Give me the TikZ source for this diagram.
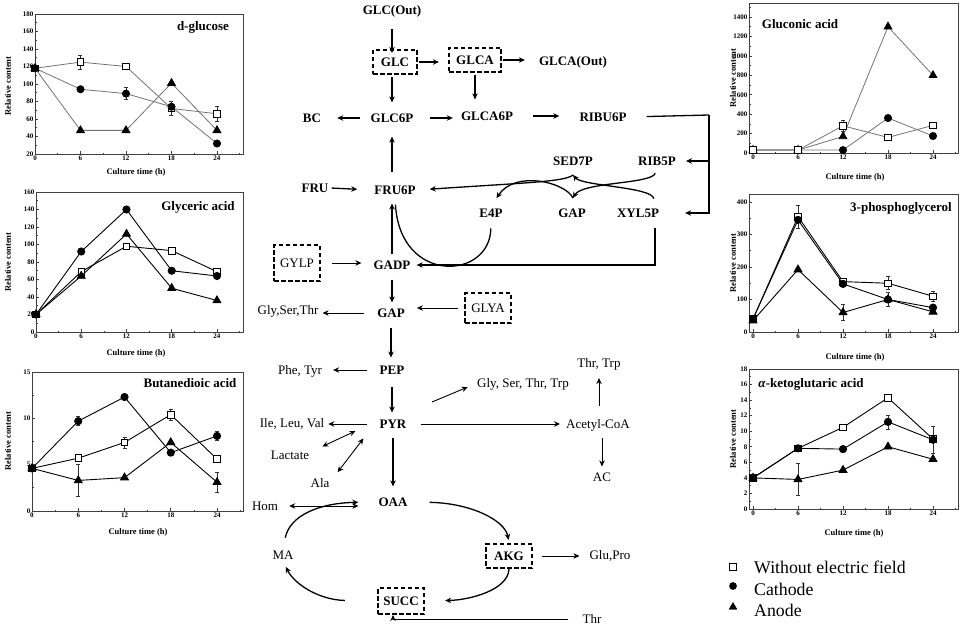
\documentclass[tikz,border=0pt]{standalone}
\usepackage{fontspec}
\setmainfont{Liberation Serif}
\usetikzlibrary{arrows.meta,plotmarks,calc}

\newcommand\errbar[3]{%
  \draw[ebar] (#1,#2-#3) -- (#1,#2+#3)
    ([xshift=-2pt]#1,#2+#3) -- ([xshift=2pt]#1,#2+#3)
    ([xshift=-2pt]#1,#2-#3) -- ([xshift=2pt]#1,#2-#3);}

\newcommand\chartframe[6]{%
  \draw[frm] (#1,#3) rectangle (#2,#4);
  \foreach \hr in {0,6,...,24}{
    \draw[frm] (\hr,#3) -- ++(0pt,3pt);
    \node[tick,anchor=north] at (\hr,#3) {\hr};}
  \foreach \hr in {3,9,...,27} \draw[frm] (\hr,#3) -- ++(0pt,1.5pt);
  \foreach \yv in {#5}{
    \draw[frm] (#1,\yv) -- ++(3pt,0pt);
    \node[tick,anchor=east] at (#1,\yv) {\yv};}
  \foreach \yv in {#6} \draw[frm] (#1,\yv) -- ++(1.5pt,0pt);
}

\begin{document}
\begin{tikzpicture}[x=1pt,y=-1pt,
  met/.style={font=\fontsize{13}{15}\selectfont\bfseries,inner sep=2pt},
  sidep/.style={font=\fontsize{13}{15}\selectfont,inner sep=2pt},
  enz/.style={draw,line width=2.2pt,dash pattern=on 4.5pt off 2.5pt,inner sep=0pt},
  arr/.style={-{Stealth[length=6pt,width=5.5pt]},line width=1.3pt,shorten >=10pt,shorten <=10pt},
  sarr/.style={arr,line width=0.9pt},
  darr/.style={sarr,{Stealth[length=6pt,width=5.5pt]}-{Stealth[length=6pt,width=5.5pt]}},
  curv/.style={line width=1.3pt},
  frm/.style={draw=black!75,line width=0.7pt},
  tick/.style={font=\fontsize{7}{8}\selectfont\bfseries,inner sep=1.5pt},
  ctitle/.style={font=\fontsize{13}{15}\selectfont\bfseries},
  xlab/.style={font=\fontsize{8.5}{10}\selectfont\bfseries},
  ylab/.style={font=\fontsize{8.5}{10}\selectfont\bfseries,rotate=90},
  ser/.style={line width=0.9pt},
  gser/.style={line width=0.8pt,draw=black!55},
  ebar/.style={line width=0.6pt,draw=black!80},
  msq/.style={mark=square*,mark size=3.3pt,mark options={solid,draw=black,fill=white,line width=0.8pt}},
  mci/.style={mark=*,mark size=3.6pt,mark options={draw=black,fill=black}},
  mtr/.style={mark=triangle*,mark size=4.5pt,mark options={draw=black,fill=black}},
  leg/.style={font=\fontsize{17.8}{20}\selectfont,anchor=west,inner sep=2pt}]

  \useasboundingbox (0,0) rectangle (964,626);

  % pathway nodes
  \node[met] (glcout) at (392,11) {GLC(Out)};
  \node[met,enz,minimum width=44pt,minimum height=24pt] (glc) at (395,62) {GLC};
  \node[met,enz,minimum width=52pt,minimum height=24pt] (glca) at (475,60) {GLCA};
  \node[met] (glcaout) at (573,62) {GLCA(Out)};
  \node[met] (bc) at (312,118) {BC};
  \node[met] (glc6p) at (392,118) {GLC6P};
  \node[met] (glca6p) at (487,116) {GLCA6P};
  \node[met] (ribu6p) at (603,117) {RIBU6P};
  \node[met] (sed7p) at (573,161) {SED7P};
  \node[met] (rib5p) at (657,161) {RIB5P};
  \node[met] (fru) at (315,188) {FRU};
  \node[met] (fru6p) at (395,190) {FRU6P};
  \node[met] (e4p) at (491,213) {E4P};
  \node[met] (gapt) at (572,213) {GAP};
  \node[met] (xyl5p) at (638,213) {XYL5P};
  \node[sidep,enz,minimum width=46pt,minimum height=36pt] (gylp) at (297,263) {GYLP};
  \node[met] (gadp) at (392,265) {GADP};
  \node[met] (gap) at (391,313) {GAP};
  \node[sidep] (gst) at (288,311) {Gly,Ser,Thr};
  \node[sidep,enz,minimum width=46pt,minimum height=30pt] (glya) at (488,308) {GLYA};
  \node[met] (pep) at (392,370) {PEP};
  \node[sidep] (phe) at (300,371) {Phe, Tyr};
  \node[sidep] (gstt) at (523,384) {Gly, Ser, Thr, Trp};
  \node[sidep] (thrtrp) at (599,364) {Thr, Trp};
  \node[met] (pyr) at (393,424) {PYR};
  \node[sidep] (ilv) at (292,424) {Ile, Leu, Val};
  \node[sidep] (lac) at (290,455) {Lactate};
  \node[sidep] (ala) at (320,483) {Ala};
  \node[sidep] (acoa) at (598,425) {Acetyl-CoA};
  \node[sidep] (ac) at (602,477) {AC};
  \node[met] (oaa) at (393,502) {OAA};
  \node[sidep] (hom) at (265,506) {Hom};
  \node[sidep] (ma) at (283,555) {MA};
  \node[met,enz,minimum width=46pt,minimum height=24pt] (akg) at (509,556) {AKG};
  \node[sidep] (glupro) at (610,556) {Glu,Pro};
  \node[met,enz,minimum width=46pt,minimum height=26pt] (succ) at (401,601) {SUCC};
  \node[sidep] (thr) at (592,619) {Thr};
  \coordinate (rt) at (709,115);
  \coordinate (ssrc) at (432,402);
  \coordinate (cup) at (573,175);
  \coordinate (cdn) at (573,198);

  % upper part
  \draw[arr,shorten >=-4pt] (glcout.south) -- (glcout.south |- glc.north);
  \draw[arr,shorten <=1pt,shorten >=9pt] (glc.east) -- (glc.east -| glca.west);
  \draw[arr,shorten <=1pt,shorten >=12pt] (glca.east) -- (glca.east -| glcaout.west);
  \draw[arr,shorten <=2pt,shorten >=9pt] (glc6p.north |- glc.south) -- (glc6p.north);
  \draw[arr,shorten <=2pt,shorten >=10pt] (glca.south) -- (glca.south |- glca6p.north);
  \draw[arr,shorten <=8pt,shorten >=14pt] (glc6p.west) -- (bc.east);
  \draw[arr,shorten <=14pt,shorten >=6pt] (glc6p.east) -- (glc6p.east -| glca6p.west);
  \draw[arr,shorten <=18pt,shorten >=18pt] (glca6p.east) -- (glca6p.east -| ribu6p.west);
  \draw[curv,shorten <=18pt] (ribu6p.east) -- (rt);
  \draw[arr,shorten <=0pt,shorten >=24pt] (rt) |- (xyl5p.east);
  \draw[arr,shorten <=0pt,shorten >=8pt] (rt) |- (rib5p.east);
  \draw[arr,shorten <=1pt,shorten >=15pt] (fru.east) -- (fru6p.west);
  \draw[arr,shorten <=11pt,shorten >=12pt] (glc6p.south |- fru6p.north) -- (glc6p.south);
  \draw[arr,shorten <=4pt,shorten >=7pt] (gadp.north) -- (gadp.north |- fru6p.south);

  % transketolase / transaldolase
  \draw[arr,shorten <=6pt,shorten >=0pt] (rib5p.south) .. controls (652,184) and (582,182) .. (cdn);
  \draw[arr,shorten <=8pt,shorten >=0pt] ($(xyl5p.north)+(17,0)$) .. controls (652,187) and (582,186) .. (cup);
  \draw[arr,shorten <=0pt,shorten >=12pt] (cup) .. controls (565,182) and (520,183) .. (fru6p.east);
  \draw[arr,shorten <=0pt,shorten >=10pt] (cdn) .. controls (565,182) and (515,170) .. (e4p.north);
  \draw[curv,shorten <=9pt,shorten >=8pt] (e4p.south) .. controls (490,280) and (400,285) .. (fru6p.south);
  \draw[arr,shorten <=8pt,shorten >=4pt] ($(xyl5p.south)+(17,0)$) |- (gadp.east);

  % glycolysis
  \draw[sarr,shorten <=11pt,shorten >=10pt] (gylp.east) -- (gylp.east -| gadp.west);
  \draw[arr,shorten <=8pt,shorten >=4pt] (gadp.south) -- (gadp.south |- gap.north);
  \draw[sarr,shorten <=6pt,shorten >=10pt] (glya.west) -- (glya.west -| gap.east);
  \draw[sarr,shorten <=11pt,shorten >=2pt] (gap.west) -- (gap.west -| gst.east);
  \draw[arr,shorten <=8pt,shorten >=6pt] (gap.south) -- (gap.south |- pep.north);
  \draw[sarr,shorten <=11pt,shorten >=9pt] (pep.west) -- (pep.west -| phe.east);
  \draw[arr,shorten <=11pt,shorten >=5pt] (pep.south) -- (pep.south |- pyr.north);
  \draw[sarr,shorten <=0pt,shorten >=8pt] (ssrc) -- (gstt.west);
  \draw[sarr,shorten <=11pt,shorten >=6pt] (thrtrp.south |- acoa.north) -- (thrtrp.south);
  \draw[sarr,shorten <=10pt,shorten >=2pt] (pyr.west) -- (ilv.east);
  \draw[darr,shorten <=0pt,shorten >=0pt] ($(pyr.west)+(-22,7)$) -- ($(lac.north east)+(11,-2)$);
  \draw[darr,shorten <=0pt,shorten >=0pt] ($(pyr.south west)+(-14,8)$) -- ($(ala.north east)+(6,-4)$);
  \draw[sarr,shorten <=12pt,shorten >=4pt] (pyr.east) -- (pyr.east -| acoa.west);
  \draw[sarr,shorten <=5pt,shorten >=4pt] (ac.north |- acoa.south) -- (ac.north);
  \draw[arr,shorten <=8pt,shorten >=9pt] (pyr.south) -- (pyr.south |- oaa.north);

  % TCA cycle
  \draw[darr,shorten <=9pt,shorten >=18pt] (hom.east) -- (hom.east -| oaa.west);
  \draw[arr,shorten <=11pt,shorten >=18pt] (ma.north) .. controls (290,515) and (320,503) .. (oaa.west);
  \draw[arr,shorten <=20pt,shorten >=3pt] (oaa.east) .. controls (470,503) and (505,520) .. (akg.north);
  \draw[sarr,shorten <=9pt,shorten >=8pt] (akg.east) -- (akg.east -| glupro.west);
  \draw[arr,shorten <=0pt,shorten >=20pt] (akg.south) .. controls (508,590) and (470,600) .. (succ.east);
  \draw[arr,shorten <=32pt,shorten >=6pt] (succ.west) .. controls (320,600) and (295,585) .. (ma.south);
  \draw[sarr,shorten <=12pt,shorten >=0pt] (thr.west) -| ($(succ.south)+(-8,0)$);

  % d-glucose
  \begin{scope}[shift={(35,171.5)},x=7.583pt,y=0.875pt]
    \chartframe{0}{27.43}{20}{180}{20,40,...,180}{30,50,...,170}
    \errbar{6}{125}{8} \errbar{18}{72}{8} \errbar{24}{66}{9} \errbar{12}{89}{7}
    \draw[gser,msq] plot coordinates {(0,118) (6,125) (12,120) (18,72) (24,66)};
    \draw[gser,mci] plot coordinates {(0,118) (6,94) (12,89) (18,74) (24,32)};
    \draw[gser,mtr] plot coordinates {(0,118) (6,47) (12,47) (18,101) (24,47)};
  \end{scope}

  % glyceric acid
  \begin{scope}[shift={(36,332)},x=7.54pt,y=0.875pt]
    \chartframe{0}{27.45}{0}{160}{0,20,...,160}{10,30,...,150}
    \draw[ser,msq] plot coordinates {(0,20) (6,69) (12,98) (18,93) (24,69)};
    \draw[ser,mci] plot coordinates {(0,20) (6,92) (12,140) (18,70) (24,64)};
    \draw[ser,mtr] plot coordinates {(0,20) (6,64) (12,112) (18,50) (24,36)};
  \end{scope}

  % butanedioic acid
  \begin{scope}[shift={(32,511)},x=7.71pt,y=9.267pt]
    \chartframe{0}{27.37}{0}{15}{0,5,10,15}{2.5,7.5,12.5}
    \errbar{6}{9.7}{0.5} \errbar{24}{8.1}{0.5} \errbar{12}{7.4}{0.6}
    \errbar{18}{10.4}{0.6} \errbar{6}{3.3}{1.7} \errbar{24}{3.1}{1.1}
    \draw[ser,msq] plot coordinates {(0,4.6) (6,5.7) (12,7.4) (18,10.4) (24,5.6)};
    \draw[ser,mci] plot coordinates {(0,4.6) (6,9.7) (12,12.3) (18,6.3) (24,8.1)};
    \draw[ser,mtr] plot coordinates {(0,4.6) (6,3.3) (12,3.6) (18,7.4) (24,3.1)};
  \end{scope}

  % gluconic acid
  \begin{scope}[shift={(753,153)},x=7.5pt,y=0.09714pt]
    \chartframe{-0.53}{27.33}{0}{1544}{0,200,...,1400}{100,300,...,1500}
    \errbar{12}{280}{60}
    \draw[gser,mtr] plot coordinates {(0,30) (6,30) (12,170) (18,1300) (24,800)};
    \draw[gser,mci] plot coordinates {(0,30) (6,30) (12,30) (18,360) (24,175)};
    \draw[gser,msq] plot coordinates {(0,30) (6,30) (12,280) (18,160) (24,285)};
  \end{scope}

  % 3-phosphoglycerol
  \begin{scope}[shift={(753,332)},x=7.5pt,y=0.325pt]
    \chartframe{-0.53}{27.33}{0}{425}{0,100,...,400}{50,150,...,350}
    \errbar{6}{355}{35} \errbar{18}{150}{20} \errbar{24}{110}{15}
    \errbar{12}{60}{25} \errbar{18}{100}{22}
    \draw[ser,msq] plot coordinates {(0,40) (6,355) (12,155) (18,150) (24,110)};
    \draw[ser,mci] plot coordinates {(0,40) (6,345) (12,148) (18,100) (24,75)};
    \draw[ser,mtr] plot coordinates {(0,35) (6,192) (12,60) (18,100) (24,62)};
  \end{scope}

  % alpha-ketoglutaric acid
  \begin{scope}[shift={(753,509)},x=7.5pt,y=7.778pt]
    \chartframe{-0.53}{27.33}{0}{18}{0,2,...,18}{1,3,...,17}
    \errbar{18}{11.2}{0.9} \errbar{24}{8.9}{1.7} \errbar{6}{3.8}{2.1} \errbar{18}{14.3}{0.4}
    \draw[ser,msq] plot coordinates {(0,4) (6,7.8) (12,10.5) (18,14.3) (24,9)};
    \draw[ser,mci] plot coordinates {(0,4) (6,7.8) (12,7.7) (18,11.2) (24,8.9)};
    \draw[ser,mtr] plot coordinates {(0,4) (6,3.8) (12,5) (18,8) (24,6.4)};
  \end{scope}

  % chart texts
  \node[ctitle] (tglc) at (203,27) {d-glucose};
  \node[ctitle] (tgly) at (198,207) {Glyceric acid};
  \node[ctitle] (tbut) at (190,383) {Butanedioic acid};
  \node[ctitle] (tgln) at (800,24) {Gluconic acid};
  \node[ctitle] (tpho) at (901,208) {3-phosphoglycerol};
  \node[ctitle] (tket) at (811,384) {\textit{α}-ketoglutaric acid};
  \foreach \cx/\cy in {136/172,136/353,138/532,855/177,855/357,854/533}
    \node[xlab] at (\cx,\cy) {Culture time (h)};
  \foreach \cx/\cy in {8/86,8/262,8/441,733/78,733/263,733/439}
    \node[ylab] at (\cx,\cy) {Relative content};

  % legend
  \path[msq] plot coordinates {(733,567)};
  \path[mci] plot coordinates {(733,586)};
  \path[mtr] plot coordinates {(733,607)};
  \node[leg] (lwo) at (752,567) {Without electric field};
  \node[leg] (lca) at (752,589) {Cathode};
  \node[leg] (lan) at (752,610) {Anode};

\end{tikzpicture}
\end{document}
